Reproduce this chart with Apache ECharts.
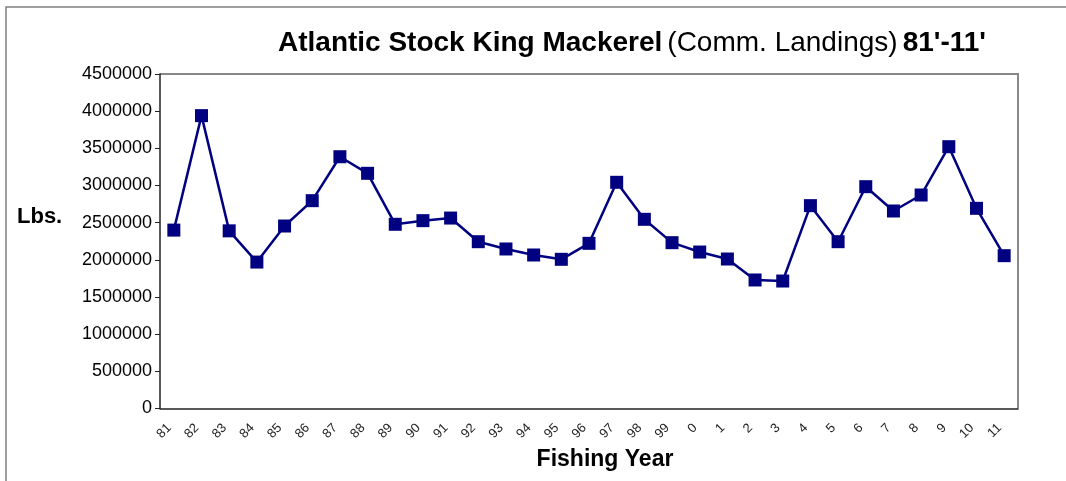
<!DOCTYPE html>
<html>
<head>
<meta charset="utf-8">
<script src="https://cdn.jsdelivr.net/npm/echarts@6/dist/echarts.min.js"></script>
<style>
  html, body { margin: 0; padding: 0; background: #fff; }
  #main { width: 1066px; height: 481px; }
</style>
</head>
<body>
<div id="main"></div>
<script>
// fishing years on the x axis
const years = ['81','82','83','84','85','86','87','88','89','90','91','92','93','94','95','96',
  '97','98','99','0','1','2','3','4','5','6','7','8','9','10','11']
// commercial landings, lbs
const landings = [2400000, 3940000, 2390000, 1970000, 2455000, 2796000, 3387000, 3164000,
  2478000, 2527000, 2562000, 2244000, 2146000, 2065000, 2007000, 2222000,
  3043000, 2545000, 2231000, 2105000, 2011000, 1729000, 1715000, 2729000,
  2244000, 2984000, 2657000, 2872000, 3522000, 2693000, 2056000]
// y axis range
const yMin = 0
const yMax = 4500000
const yStep = 500000

const font = '"Liberation Sans", Arial, sans-serif'
let myChart = echarts.init(document.getElementById('main'))

let option = {
    backgroundColor: '#fff',
    textStyle: { fontFamily: font },
    title: {
        text: '{b|Atlantic Stock King Mackerel} {n|(Comm. Landings)} {b|81\'-11\'}',
        left: 627,
        textAlign: 'center',
        top: 24,
        textStyle: {
            rich: {
                b: { fontFamily: font, fontSize: 28, fontWeight: 'bold', color: '#000' },
                n: { fontFamily: font, fontSize: 28, fontWeight: 'normal', color: '#000' }
            }
        }
    },
    graphic: [
        // outer chart frame
        { type: 'polyline', shape: { points: [[6, 481], [6, 7], [1066, 7]] },
          style: { stroke: '#808080', lineWidth: 1.5, fill: null } },
        // plot area frame (top/right)
        { type: 'polyline', shape: { points: [[160, 74], [1018, 74], [1018, 408.5]] },
          style: { stroke: '#888', lineWidth: 2, fill: null } },
        { type: 'text', left: 17, top: 206,
          style: { text: 'Lbs.', fontFamily: font, fontSize: 22, fontWeight: 'bold', fill: '#000' } }
    ],
    grid: { left: 160, right: 48, top: 74, bottom: 72.5 },
    xAxis: {
        type: 'category',
        data: years,
        boundaryGap: true,
        name: 'Fishing Year',
        nameLocation: 'middle',
        nameGap: 38,
        nameTextStyle: { fontFamily: font, fontSize: 23, fontWeight: 'bold', color: '#000',
                         padding: [0, 0, 0, 32] },
        axisLine: { lineStyle: { color: '#222', width: 1.5 } },
        axisTick: { inside: false, length: 5, lineStyle: { color: '#222' } },
        axisLabel: { rotate: 45, fontSize: 13, color: '#222', margin: 22, interval: 0,
                     verticalAlign: 'bottom' }
    },
    yAxis: {
        type: 'value',
        min: yMin,
        max: yMax,
        interval: yStep,
        axisLine: { show: true, lineStyle: { color: '#222', width: 1.5 } },
        axisTick: { show: true, length: 5, lineStyle: { color: '#222' } },
        splitLine: { show: false },
        axisLabel: { fontSize: 18, color: '#000', margin: 8,
                     formatter: function (v) { return String(v) } }
    },
    series: [{
        type: 'line',
        data: landings,
        symbol: 'rect',
        symbolSize: 13,
        itemStyle: { color: '#000080' },
        lineStyle: { color: '#000080', width: 2.5 },
        animation: false
    }]
}
myChart.setOption(option)
</script>
</body>
</html>
